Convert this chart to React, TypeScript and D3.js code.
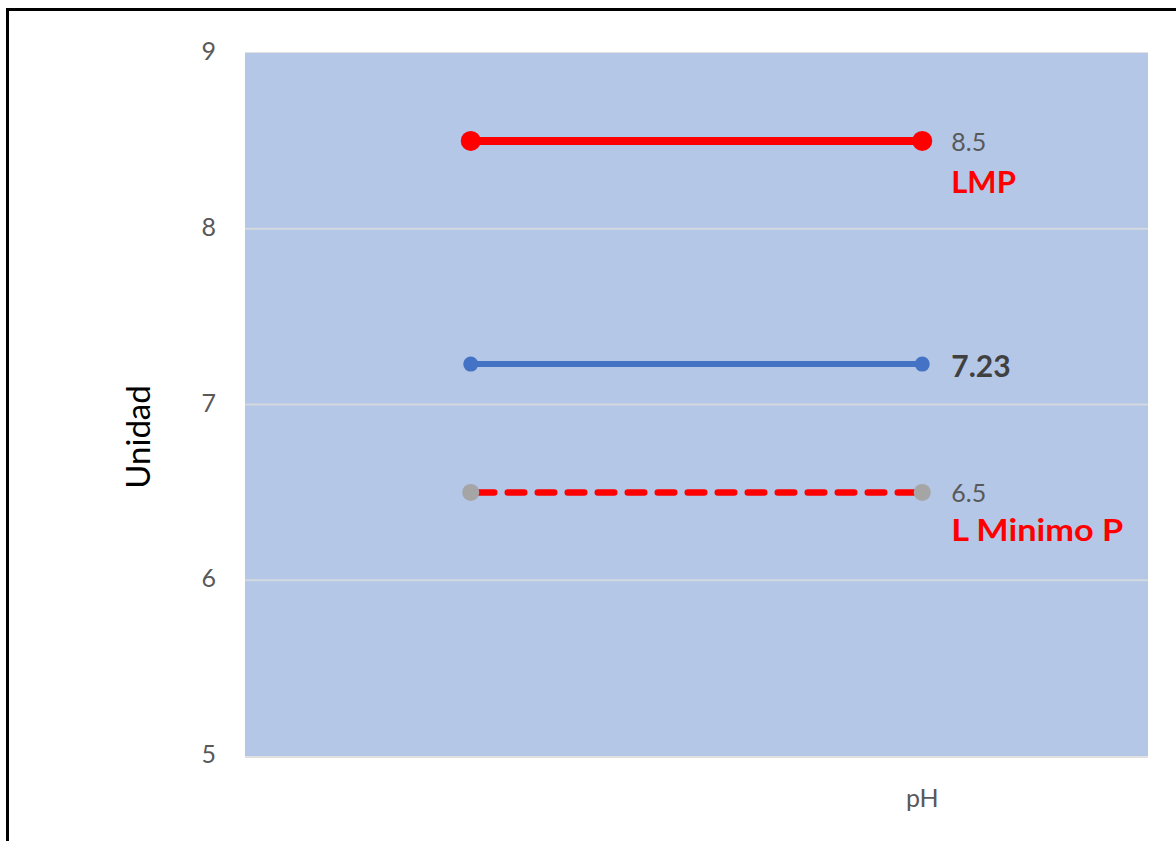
import React from "react";
import * as d3 from "d3";

const categories = ["", "pH"];
const lmpValues = [8.5, 8.5];
const resultValues = [7.23, 7.23];
const minValues = [6.5, 6.5];
const yTicks = [5, 6, 7, 8, 9];

const W = 1176;
const H = 841;
const M = { left: 245, right: 1148, top: 53, bottom: 756 };
const FONT = "Lato, 'Open Sans', sans-serif";

export default function App() {
  const x = d3.scaleBand<string>().domain(categories).range([M.left, M.right]).paddingInner(0).paddingOuter(0);
  const y = d3.scaleLinear().domain([5, 9]).range([M.bottom, M.top]);
  const cx = (c: string) => (x(c) as number) + x.bandwidth() / 2;
  const line = d3
    .line<number>()
    .x((_, i) => cx(categories[i]))
    .y((d) => y(d));
  const lastX = cx(categories[categories.length - 1]);
  const labelX = lastX + 29;

  return (
    <div style={{ position: "absolute", left: 0, top: 0, width: W, height: H, background: "#fff" }}>
      <svg width={W} height={H} style={{ display: "block" }}>
        <rect x={7.5} y={9.5} width={W + 20} height={H + 20} fill="#fff" stroke="#000" strokeWidth={3} />
        <rect x={M.left} y={M.top} width={M.right - M.left} height={M.bottom - M.top} fill="#B4C7E7" />
        <line x1={M.left} x2={M.right} y1={M.top - 0.5} y2={M.top - 0.5} stroke="#E2E2E2" strokeWidth={1} />
        <line x1={M.left} x2={M.right} y1={M.bottom + 1} y2={M.bottom + 1} stroke="#E0E0E0" strokeWidth={2} />
        {yTicks.filter((t) => t !== 5 && t !== 9).map((t) => (
          <line key={t} x1={M.left} x2={M.right} y1={y(t)} y2={y(t)} stroke="#D4D8DF" strokeWidth={2} />
        ))}
        {yTicks.map((t) => (
          <text key={t} x={216} y={y(t) - 3} textAnchor="end" dominantBaseline="central" fontFamily={FONT} fontSize={25} fill="#595959">
            {t}
          </text>
        ))}
        <text
          transform={`translate(${150},${437}) rotate(-90)`}
          textAnchor="middle"
          fontFamily={FONT}
          fontSize={33}
          fill="#000"
        >
          Unidad
        </text>
        {categories.map((c) => (
          <text key={c || "blank"} x={cx(c)} y={797} textAnchor="middle" dominantBaseline="central" fontFamily={FONT} fontSize={25} fill="#595959">
            {c}
          </text>
        ))}

        {/* LMP */}
        <path d={line(lmpValues) as string} fill="none" stroke="#FF0000" strokeWidth={8} />
        {lmpValues.map((v, i) => (
          <circle key={"l" + i} cx={cx(categories[i])} cy={y(v)} r={10} fill="#FF0000" />
        ))}

        {/* Result */}
        <path d={line(resultValues) as string} fill="none" stroke="#4472C4" strokeWidth={6} />
        {resultValues.map((v, i) => (
          <circle key={"r" + i} cx={cx(categories[i])} cy={y(v)} r={7.5} fill="#4472C4" />
        ))}

        {/* Min */}
        <path
          d={line(minValues) as string}
          fill="none"
          stroke="#FF0000"
          strokeWidth={6.5}
          strokeDasharray="16.5 13.5"
          strokeDashoffset={-7}
          strokeLinecap="round"
        />
        {minValues.map((v, i) => (
          <circle key={"m" + i} cx={cx(categories[i])} cy={y(v)} r={8.5} fill="#A5A5A5" />
        ))}

        {/* Labels */}
        <text x={labelX} y={y(lmpValues[1])} dominantBaseline="central" fontFamily={FONT} fontSize={25} fill="#595959">
          {lmpValues[1]}
        </text>
        <text x={labelX} y={y(lmpValues[1]) + 40} dominantBaseline="central" fontFamily={FONT} fontSize={31} fontWeight="bold" fill="#FF0000">
          LMP
        </text>
        <text x={labelX} y={y(resultValues[1]) + 1} dominantBaseline="central" fontFamily={FONT} fontSize={30} fontWeight="bold" fill="#404040">
          {resultValues[1].toFixed(2)}
        </text>
        <text x={labelX} y={y(minValues[1])} dominantBaseline="central" fontFamily={FONT} fontSize={25} fill="#595959">
          {minValues[1]}
        </text>
        <text
          x={labelX}
          y={y(minValues[1]) + 37}
          dominantBaseline="central"
          fontFamily={FONT}
          fontSize={31}
          fontWeight="bold"
          fill="#FF0000"
          textLength={172}
          lengthAdjust="spacingAndGlyphs"
        >
          L Minimo P
        </text>
      </svg>
    </div>
  );
}
